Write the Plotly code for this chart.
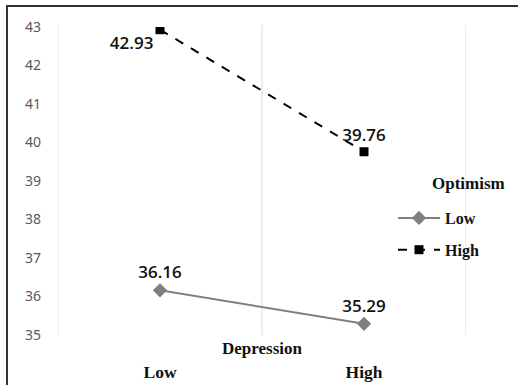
import plotly.graph_objects as go

categories = ["Low", "High"]
low_optimism = [36.16, 35.29]
high_optimism = [42.93, 39.76]
y_ticks = [35, 36, 37, 38, 39, 40, 41, 42, 43]

W, H = 518, 385
L, R, T, B = 58, 52, 27, 50
pw, ph = W - L - R, H - T - B

def px(x):
    return (x - L) / pw

def py(y):
    return (H - B - y) / ph

xpos = [i + 0.5 for i in range(len(categories))]
bounds = list(range(len(categories) + 1))

label_font = dict(family="Open Sans", size=17, color="#111111", weight=600)

fig = go.Figure()
fig.add_trace(go.Scatter(
    x=xpos, y=low_optimism, name="Low", mode="lines+markers+text",
    line=dict(color="#808080", width=2),
    marker=dict(symbol="diamond", size=11, color="#808080"),
    text=[f"{v:.2f}" for v in low_optimism],
    textposition=["top center", "top center"],
    textfont=label_font,
    legendgroup="a",
))
fig.add_trace(go.Scatter(
    x=xpos, y=high_optimism, name="High", mode="lines+markers+text",
    line=dict(color="#000000", width=2, dash="dash"),
    marker=dict(symbol="square", size=9, color="#000000"),
    text=[f"{v:.2f}" for v in high_optimism],
    textposition=["bottom left", "top center"],
    textfont=label_font,
    legendgroup="b",
))

shapes = [
    dict(type="line", xref="x", yref="paper", x0=b, x1=b, y0=0, y1=py(25),
         line=dict(color="#d9d9d9", width=1), layer="below")
    for b in bounds
]
shapes += [
    dict(type="line", xref="paper", yref="paper", x0=px(6), x1=px(518),
         y0=py(6), y1=py(6), line=dict(color="#333333", width=2)),
    dict(type="line", xref="paper", yref="paper", x0=px(7), x1=px(7),
         y0=py(6), y1=py(385), line=dict(color="#333333", width=2)),
]

fig.update_layout(
    width=W, height=H,
    margin=dict(l=L, r=R, t=T, b=B),
    paper_bgcolor="white", plot_bgcolor="white",
    showlegend=True,
    legend=dict(
        x=px(393), y=py(201), xanchor="left", yanchor="top",
        font=dict(family="Liberation Serif", size=16, color="#111111", weight="bold"),
        tracegroupgap=8,
        itemwidth=42,
        bgcolor="rgba(0,0,0,0)",
    ),
    xaxis=dict(
        range=[0, len(categories)], tickvals=xpos, ticktext=categories,
        showgrid=False, showline=False, zeroline=False, ticks="",
        tickfont=dict(family="Liberation Serif", size=17.5, color="#111111", weight="bold"),
        ticklabelstandoff=24, automargin=False,
    ),
    yaxis=dict(
        range=[35, 43], tickvals=y_ticks, showgrid=False, zeroline=False,
        showline=False, ticks="",
        tickfont=dict(family="Noto Sans", size=14, color="#595959"),
        ticklabelstandoff=16, automargin=False,
    ),
    annotations=[
        dict(text="<b>Depression</b>", x=0.5, y=py(348), xref="paper", yref="paper",
             showarrow=False, yanchor="middle",
             font=dict(family="Liberation Serif", size=17, color="#111111")),
        dict(text="<b>Optimism</b>", x=px(430), y=py(183), xref="paper", yref="paper",
             showarrow=False, xanchor="left", yanchor="middle",
             font=dict(family="Liberation Serif", size=17, color="#111111")),
    ],
    shapes=shapes,
)

fig.write_html("out.html", config={"displayModeBar": False},
               post_script="document.body.style.margin='0';")
